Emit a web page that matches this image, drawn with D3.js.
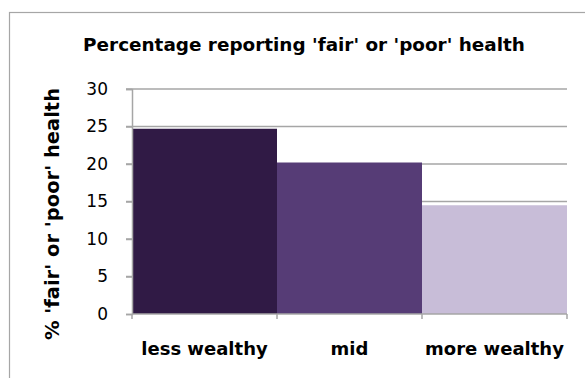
<!DOCTYPE html>
<html>
<head>
<meta charset="utf-8">
<script src="https://cdn.jsdelivr.net/npm/d3@7"></script>
<style>
  html, body { margin: 0; padding: 0; background: #fff; }
  svg { display: block; font-family: Verdana, "DejaVu Sans", sans-serif; }
</style>
</head>
<body>
<div id="chart"></div>
<script>
// Datos
const CATEGORIES = ["less wealthy", "mid", "more wealthy"];
const VALUES     = [24.7, 20.2, 14.5];
const COLORS     = ["#301a45", "#563c76", "#c8bdd8"];
const Y_TICKS    = [0, 5, 10, 15, 20, 25, 30];
const TITLE      = "Percentage reporting 'fair' or 'poor' health";
const Y_LABEL    = "% 'fair' or 'poor' health";

const width = 585, height = 378;
const margin = { top: 89, right: 18, bottom: 64, left: 132 };
const innerW = width - margin.left - margin.right;
const innerH = height - margin.top - margin.bottom;

const svg = d3.select("#chart").append("svg")
  .attr("width", width).attr("height", height);

// Marco del gráfico
svg.append("rect")
  .attr("x", 9.5).attr("y", 12.5)
  .attr("width", width + 10).attr("height", height + 10)
  .attr("fill", "none").attr("stroke", "#a6a6a6").attr("stroke-width", 1.2);

svg.append("text")
  .attr("x", 304).attr("y", 51)
  .attr("text-anchor", "middle")
  .attr("font-size", 18.4).attr("font-weight", "bold")
  .text(TITLE);

const g = svg.append("g").attr("transform", `translate(${margin.left},${margin.top})`);

const x = d3.scaleBand().domain(CATEGORIES).range([0, innerW]).padding(0);
const y = d3.scaleLinear().domain([0, 30]).range([innerH, 0]);

// Rejilla
g.append("g").selectAll("line").data(Y_TICKS.filter(d => d > 0)).join("line")
  .attr("x1", -6).attr("x2", innerW)
  .attr("y1", d => y(d)).attr("y2", d => y(d))
  .attr("stroke", "#a6a6a6").attr("stroke-width", 1.5);

// Barras
g.selectAll("rect.bar").data(CATEGORIES).join("rect").attr("class", "bar")
  .attr("x", d => x(d)).attr("width", x.bandwidth())
  .attr("y", (d, i) => y(VALUES[i]))
  .attr("height", (d, i) => innerH - y(VALUES[i]))
  .attr("fill", (d, i) => COLORS[i]);

// Eje Y
const yAxis = g.append("g")
  .call(d3.axisLeft(y).tickValues(Y_TICKS).tickSize(6).tickPadding(18));
yAxis.select(".domain").attr("stroke", "#a6a6a6").attr("stroke-width", 1.5);
yAxis.selectAll(".tick line").attr("stroke", "#a6a6a6").attr("stroke-width", 1.5);
yAxis.selectAll(".tick text").attr("font-size", 17).attr("fill", "#000")
  .attr("font-family", "Verdana, 'DejaVu Sans', sans-serif");

// Eje X
const xAxis = g.append("g").attr("transform", `translate(0,${innerH})`);
xAxis.append("line").attr("x1", 0).attr("x2", innerW)
  .attr("stroke", "#a6a6a6").attr("stroke-width", 1.5);
xAxis.selectAll("line.tk").data(d3.range(CATEGORIES.length + 1)).join("line").attr("class", "tk")
  .attr("x1", i => i * x.step()).attr("x2", i => i * x.step())
  .attr("y1", 0).attr("y2", 5)
  .attr("stroke", "#a6a6a6").attr("stroke-width", 1.5);
xAxis.selectAll("text").data(CATEGORIES).join("text")
  .attr("x", d => x(d) + x.bandwidth() / 2).attr("y", 41)
  .attr("text-anchor", "middle")
  .attr("font-size", 18).attr("font-weight", "bold")
  .text(d => d);

// Título eje Y
svg.append("text")
  .attr("transform", "translate(59,340) rotate(-90)")
  .attr("text-anchor", "start")
  .attr("font-size", 19.5).attr("font-weight", "bold")
  .text(Y_LABEL);
</script>
</body>
</html>
